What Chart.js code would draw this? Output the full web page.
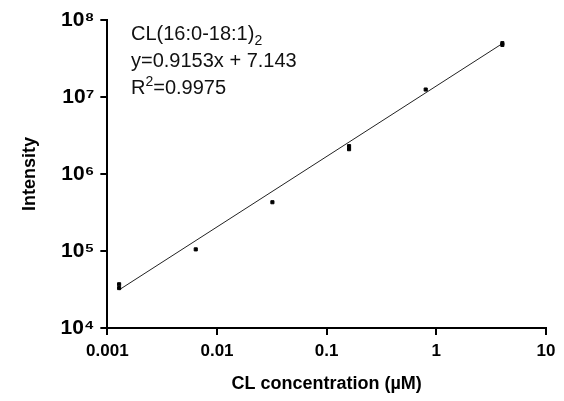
<!DOCTYPE html>
<html><head><meta charset="utf-8">
<script src="https://cdn.jsdelivr.net/npm/chart.js@4"></script>
<style>
html,body{margin:0;padding:0;background:#fff;}
#wrap{position:relative;width:564px;height:401px;}
#ann{position:absolute;left:131px;top:20px;font:20px "Liberation Sans",Arial,sans-serif;line-height:27px;color:#111;}
#ann sub{font-size:14px;vertical-align:-5px;line-height:0}
#ann sup{font-size:14px;vertical-align:8px;line-height:0}
</style></head><body>
<div id="wrap"><canvas id="c" width="564" height="401"></canvas>
<div id="ann">CL(16:0-18:1)<sub>2</sub><br>y=0.9153x + 7.143<br>R<sup>2</sup>=0.9975</div></div>
<script>
const xValues=[0.00128,0.00128,0.0064,0.032,0.16,0.16,0.8,4,4];
const yValues=[3.3e4,3.7e4,1.05e5,4.3e5,2.1e6,2.3e6,1.25e7,4.75e7,5.0e7];
const slope=0.9153, intercept=7.143;
const lineX=[0.00128,4];
const yTicks=[1e4,1e5,1e6,1e7,1e8];
const yTickLabels=['10⁴','10⁵','10⁶','10⁷','10⁸'];
const xTicks=[0.001,0.01,0.1,1,10];
const xTickLabels=['0.001','0.01','0.1','1','10'];
const font={family:'"Liberation Sans", Arial, sans-serif',size:17,weight:'bold'};
new Chart(document.getElementById('c'),{
 type:'scatter',
 data:{datasets:[
  {data:xValues.map((x,i)=>({x,y:yValues[i]})),pointStyle:'rect',pointRadius:2.2,backgroundColor:'#000',borderColor:'#000'},
  {type:'line',data:lineX.map(x=>({x,y:Math.pow(10,slope*Math.log10(x)+intercept)})),borderColor:'#222',borderWidth:1,pointRadius:0}
 ]},
 options:{responsive:false,animation:false,
  layout:{padding:{top:20,right:18,left:15,bottom:2}},
  plugins:{legend:{display:false},tooltip:{enabled:false}},
  scales:{
   x:{type:'logarithmic',min:0.001,max:10,
    afterBuildTicks:a=>{a.ticks=xTicks.map(v=>({value:v}));},
    ticks:{callback:(v)=>xTickLabels[xTicks.indexOf(v)]??'',color:'#000',font,maxRotation:0,autoSkip:false,padding:6},
    grid:{display:true,drawOnChartArea:false,drawTicks:true,tickLength:7,color:'#000',lineWidth:2},
    border:{color:'#000',width:2},
    title:{display:true,text:'CL concentration (µM)',color:'#000',font:{...font,size:18},padding:{top:6}}},
   y:{type:'logarithmic',min:1e4,max:1e8,
    afterBuildTicks:a=>{a.ticks=yTicks.map(v=>({value:v}));},
    ticks:{callback:(v)=>yTickLabels[yTicks.indexOf(v)]??'',color:'#000',font:{...font,size:21},autoSkip:false,padding:6},
    grid:{display:true,drawOnChartArea:false,drawTicks:true,tickLength:7,color:'#000',lineWidth:2},
    border:{color:'#000',width:2},
    title:{display:true,text:'Intensity',color:'#000',font:{...font,size:18},padding:{bottom:14}}}
  }}
});
</script></body></html>
